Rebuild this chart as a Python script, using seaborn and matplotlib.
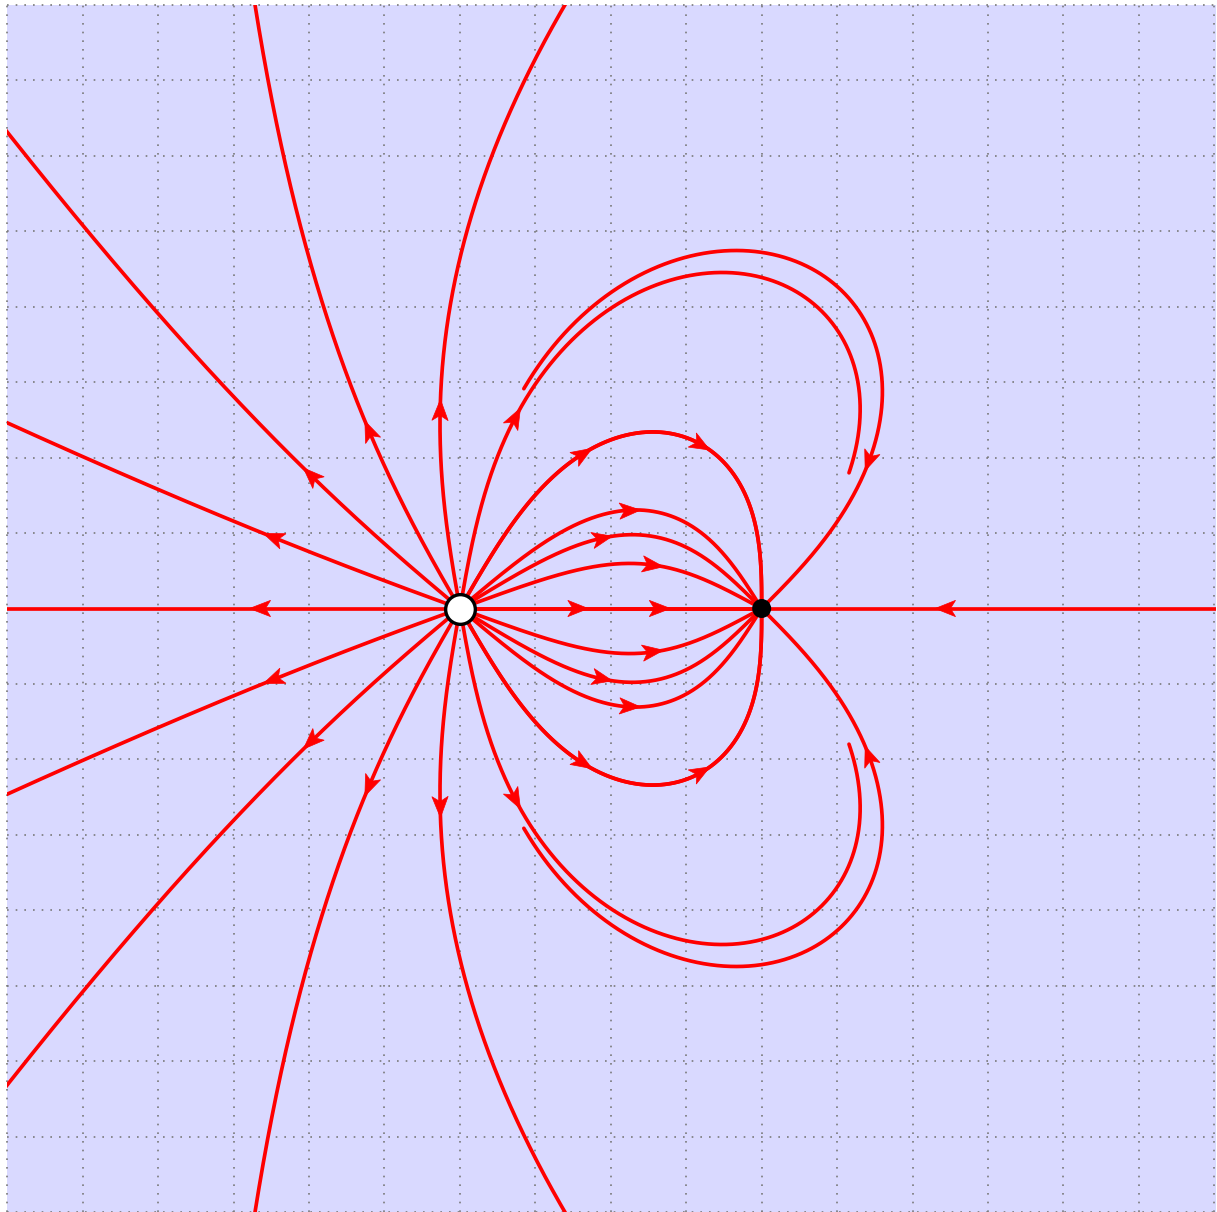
import numpy as np
import matplotlib
matplotlib.use("Agg")
import matplotlib.pyplot as plt
from matplotlib.patches import Polygon
import seaborn as sns

# Cargas: fuente (circulo blanco) y sumidero (punto negro)
charge_x = [0.0, 4.0]
charge_y = [0.0, 0.0]
charge_q = [2.0, -1.0]

# Angulos de salida de las lineas de campo (grados)
source_angles = [0, 20, 40, 60, 80, 100, 120, 140, 160, 180,
                 200, 220, 240, 260, 280, 300, 320, 340]
sink_angles = [0, 45, 90, 135, 180, 225, 270, 315]

# Longitud maxima de cada linea y posicion de las flechas (unidades)
max_len = 9.9
source_arrow = (2.51, 2.79)   # (cola, punta) desde la fuente
sink_arrow = (2.57, 2.30)     # (cola, punta) desde el sumidero

x_min, y_max = -6.0, 8.0
px_unit = 75.6
W, H = 1217, 1212

red = "#ff0000"
bg = "#d9d9ff"


def campo(p):
    e = np.zeros(2)
    for cx, cy, q in zip(charge_x, charge_y, charge_q):
        d = p - np.array([cx, cy])
        r = np.hypot(d[0], d[1])
        e += q * d / r**3
    return e


def direccion(p, signo):
    e = campo(p) * signo
    return e / np.hypot(e[0], e[1])


def trazar(i, ang, signo, ds=0.01, r0=0.02):
    c = np.array([charge_x[i], charge_y[i]])
    otro = np.array([charge_x[1 - i], charge_y[1 - i]])
    a = np.radians(ang)
    u0 = np.round(np.array([np.cos(a), np.sin(a)]), 12)
    p = c + r0 * u0
    pts = [c, p]
    s = r0
    while s < max_len:
        k1 = direccion(p, signo)
        k2 = direccion(p + 0.5 * ds * k1, signo)
        k3 = direccion(p + 0.5 * ds * k2, signo)
        k4 = direccion(p + ds * k3, signo)
        p = p + ds * (k1 + 2 * k2 + 2 * k3 + k4) / 6
        s += ds
        if np.hypot(*(p - otro)) < 0.03:
            pts.append(otro)
            break
        pts.append(p)
        if p[0] < -6.5 or p[0] > 10.5 or abs(p[1]) > 8.5:
            break
    return np.array(pts)


def punto(pts, cum, s):
    x = np.interp(s, cum, pts[:, 0])
    y = np.interp(s, cum, pts[:, 1])
    return np.array([x, y])


def flecha(ax, pts, s_cola, s_punta):
    cum = np.concatenate([[0], np.cumsum(np.hypot(*np.diff(pts, axis=0).T))])
    if cum[-1] < max(s_cola, s_punta):
        return
    cola = punto(pts, cum, s_cola)
    punta = punto(pts, cum, s_punta)
    u = punta - cola
    u = u / np.hypot(*u)
    n = np.array([-u[1], u[0]])
    w = 0.108
    poly = [punta, cola + n * w, cola + u * 0.068, cola - n * w]
    ax.add_patch(Polygon(poly, closed=True, facecolor=red, edgecolor=red,
                         lw=0.5, zorder=4))


sns.set_theme(style="white")

fig = plt.figure(figsize=(W / 100, H / 100), dpi=100)
ax = fig.add_axes([6 / W, 0, (W - 6) / W, (H - 5) / H])
ax.set_facecolor(bg)
ax.set_xlim(x_min, x_min + (W - 6) / px_unit)
ax.set_ylim(y_max - (H - 5) / px_unit, y_max)
ax.set_aspect("equal")

lineas = []
for ang in source_angles:
    lineas.append((trazar(0, ang, 1), source_arrow))
for ang in sink_angles:
    lineas.append((trazar(1, ang, -1), sink_arrow))

for pts, (s_cola, s_punta) in lineas:
    sns.lineplot(x=pts[:, 0], y=pts[:, 1], sort=False, estimator=None,
                 color=red, linewidth=2.65, ax=ax, zorder=3)
    flecha(ax, pts, s_cola, s_punta)

# cuadricula punteada
ax.set_xticks(np.arange(-6, 11))
ax.set_yticks(np.arange(-8, 9))
ax.grid(True, color="#7a7a7a", linestyle=(0, (1, 4.2)), linewidth=1.2)
for gl in ax.get_xgridlines() + ax.get_ygridlines():
    gl.set_clip_on(False)
ax.tick_params(left=False, bottom=False, labelleft=False, labelbottom=False)
for sp in ax.spines.values():
    sp.set_visible(False)

# cargas
ax.scatter([charge_x[0]], [charge_y[0]], s=457, facecolor="white",
           edgecolor="black", linewidth=2.4, zorder=5)
ax.scatter([charge_x[1]], [charge_y[1]], s=187, facecolor="black",
           edgecolor="none", zorder=5)

fig.savefig("out.png", dpi=100, facecolor="white")
